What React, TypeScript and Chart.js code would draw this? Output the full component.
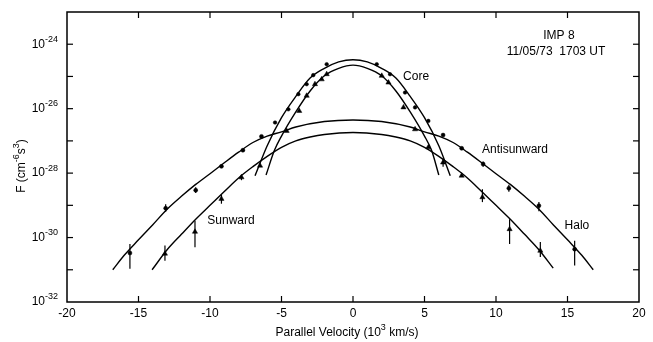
import React, { useEffect, useRef } from 'react';
import { Chart, registerables } from 'chart.js';

Chart.register(...registerables);

const FONT = '"Liberation Sans", Arial, Helvetica, sans-serif';

// Axis ticks
const xTickValues = [-20, -15, -10, -5, 0, 5, 10, 15, 20];
const yDecades = [-32, -31, -30, -29, -28, -27, -26, -25, -24, -23];
const yLabelDecades = [-32, -30, -28, -26, -24];

// Fitted curves (log10 of F)
const coreOuterX = [-6.85, -6, -5, -4, -3, -2, -1, 0, 1, 2, 3, 4, 5, 6, 6.8];
const coreOuterLogF = [-28.08, -27.15, -26.28, -25.62, -25.05, -24.75, -24.55, -24.48, -24.55, -24.75, -25.05, -25.62, -26.28, -27.15, -28.08];

const coreInnerX = [-6.08, -5.5, -5, -4, -3, -2, -1, 0, 1, 2, 3, 4, 5, 5.5, 6.0];
const coreInnerLogF = [-28.06, -27.3, -26.85, -26.1, -25.45, -24.98, -24.75, -24.65, -24.75, -24.98, -25.45, -26.1, -26.85, -27.3, -28.06];

const antiCurveX = [-16.8, -16, -15, -14, -13, -12, -11, -10, -9, -8, -7, -6, -5, -4, -2, 0, 2, 4, 5, 6, 7, 8, 9, 10, 11, 12, 13, 14, 15, 16, 16.8];
const antiCurveLogF = [-31.0, -30.55, -30.07, -29.6, -29.12, -28.72, -28.35, -28.02, -27.68, -27.35, -27.05, -26.85, -26.72, -26.57, -26.4, -26.35, -26.4, -26.57, -26.72, -26.85, -27.05, -27.35, -27.68, -28.02, -28.35, -28.72, -29.12, -29.6, -30.07, -30.55, -31.0];

const sunCurveX = [-14.05, -13, -12, -11, -10, -9, -8, -7, -6, -5, -4, -3, -2, 0, 2, 3, 4, 5, 6, 7, 8, 9, 10, 11, 12, 13, 14.0];
const sunCurveLogF = [-31.0, -30.38, -29.9, -29.43, -29.0, -28.57, -28.15, -27.8, -27.48, -27.2, -27.0, -26.88, -26.8, -26.74, -26.8, -26.88, -27.0, -27.2, -27.48, -27.8, -28.15, -28.57, -29.0, -29.43, -29.9, -30.38, -30.95];

// Measured points
const coreDotX = [-5.45, -4.52, -3.82, -3.24, -2.78, -1.84, 1.66, 2.59, 3.64, 4.34, 5.27];
const coreDotLogF = [-26.43, -26.02, -25.55, -25.24, -24.96, -24.62, -24.62, -24.93, -25.5, -25.96, -26.38];

const coreTriX = [-4.64, -3.76, -3.24, -2.66, -2.19, -1.84, 2.01, 2.48, 3.53, 4.34, 5.27];
const coreTriLogF = [-26.69, -26.07, -25.6, -25.24, -25.09, -24.93, -24.98, -25.19, -25.96, -26.64, -27.2];

const antiX = [-15.6, -13.1, -11.0, -9.2, -7.7, -6.4, 6.3, 7.6, 9.1, 10.9, 13.0, 15.5];
const antiLogF = [-30.48, -29.09, -28.53, -27.79, -27.29, -26.86, -26.82, -27.23, -27.72, -28.47, -29.01, -30.36];
const antiErrLo = [-30.97, -29.2, -28.62, null, null, null, null, null, -27.8, -28.58, -29.18, -30.87];
const antiErrHi = [-30.2, -28.97, -28.44, null, null, null, null, null, -27.64, -28.36, -28.9, -30.1];

const sunX = [-13.15, -11.05, -9.2, -7.8, -6.5, 6.3, 7.6, 9.05, 10.95, 13.1];
const sunLogF = [-30.5, -29.82, -28.8, -28.13, -27.77, -27.67, -28.08, -28.75, -29.74, -30.41];
const sunErrLo = [-30.72, -30.3, -28.95, -28.22, null, -27.8, null, -28.9, -30.2, -30.6];
const sunErrHi = [-30.25, -29.48, -28.68, -28.05, null, -27.55, null, -28.5, -29.43, -30.14];

// Text annotations (data coordinates)
const noteText = ['Core', 'Antisunward', 'Halo', 'Sunward', 'IMP 8', '11/05/73  1703 UT'];
const noteX = [4.41, 11.33, 15.66, -8.53, 14.4, 14.2];
const noteLogF = [-25.02, -27.26, -29.64, -29.49, -23.72, -24.22];

const MAIN = `12px ${FONT}`;
const SMALL = `9px ${FONT}`;

// draws a run of [text, isSuperscript] pieces starting at x (left-aligned, middle baseline)
const drawRuns = (ctx: any, runs: [string, boolean][], x: number, y: number) => {
  let cx = x;
  for (const [t, s] of runs) {
    ctx.font = s ? SMALL : MAIN;
    ctx.fillText(t, cx, s ? y - 5 : y);
    cx += ctx.measureText(t).width;
  }
};
const runsWidth = (ctx: any, runs: [string, boolean][]) => {
  let w = 0;
  for (const [t, s] of runs) {
    ctx.font = s ? SMALL : MAIN;
    w += ctx.measureText(t).width;
  }
  return w;
};

const toPts = (xs: number[], logs: number[]) => xs.map((x, i) => ({ x, y: Math.pow(10, logs[i]) }));

const framePlugin = {
  id: 'frameAndExtras',
  afterDatasetsDraw(chart: any) {
    const { ctx, chartArea: a, scales } = chart;
    const xs = scales.x;
    const ys = scales.y;
    ctx.save();
    ctx.strokeStyle = '#000';
    const line = (x1: number, y1: number, x2: number, y2: number) => {
      ctx.beginPath();
      ctx.moveTo(x1, y1);
      ctx.lineTo(x2, y2);
      ctx.stroke();
    };
    // error bars
    ctx.lineWidth = 1.2;
    const bars = (X: number[], lo: (number | null)[], hi: (number | null)[]) => {
      X.forEach((x, i) => {
        const l = lo[i];
        const h = hi[i];
        if (l == null || h == null) return;
        const px = xs.getPixelForValue(x);
        line(px, ys.getPixelForValue(Math.pow(10, l)), px, ys.getPixelForValue(Math.pow(10, h)));
      });
    };
    bars(antiX, antiErrLo, antiErrHi);
    bars(sunX, sunErrLo, sunErrHi);

    // frame
    ctx.lineWidth = 1.5;
    ctx.strokeRect(a.left, a.top, a.right - a.left, a.bottom - a.top);
    // inward ticks
    ctx.lineWidth = 1.2;
    const L = 6;
    for (const v of xTickValues) {
      const px = xs.getPixelForValue(v);
      if (px <= a.left + 1 || px >= a.right - 1) continue;
      line(px, a.bottom, px, a.bottom - L);
      line(px, a.top, px, a.top + L);
    }
    for (const e of yDecades) {
      const py = ys.getPixelForValue(Math.pow(10, e));
      if (py <= a.top + 1 || py >= a.bottom - 1) continue;
      line(a.left, py, a.left + L, py);
      line(a.right, py, a.right - L, py);
    }

    ctx.fillStyle = '#000';
    ctx.textBaseline = 'middle';

    // y tick labels: 10 with superscript exponent
    ctx.textAlign = 'left';
    for (const e of yLabelDecades) {
      const py = ys.getPixelForValue(Math.pow(10, e));
      const runs: [string, boolean][] = [['10', false], [String(e), true]];
      const w = runsWidth(ctx, runs);
      drawRuns(ctx, runs, a.left - 9 - w, py);
    }

    // annotations
    ctx.font = MAIN;
    ctx.textAlign = 'center';
    noteText.forEach((t, i) => {
      ctx.fillText(t, xs.getPixelForValue(noteX[i]), ys.getPixelForValue(Math.pow(10, noteLogF[i])));
    });

    // x axis title
    ctx.textAlign = 'left';
    const xRuns: [string, boolean][] = [['Parallel Velocity (10', false], ['3', true], [' km/s)', false]];
    const xw = runsWidth(ctx, xRuns);
    drawRuns(ctx, xRuns, (a.left + a.right) / 2 - 6 - xw / 2, 333);

    // y axis title (rotated)
    const yRuns: [string, boolean][] = [['F (cm', false], ['-6', true], ['s', false], ['3', true], [')', false]];
    const yw = runsWidth(ctx, yRuns);
    ctx.save();
    ctx.translate(22, (a.top + a.bottom) / 2 + 9);
    ctx.rotate(-Math.PI / 2);
    drawRuns(ctx, yRuns, -yw / 2, 0);
    ctx.restore();
    ctx.restore();
  },
};

export default function App() {
  const ref = useRef<HTMLCanvasElement | null>(null);
  useEffect(() => {
    if (!ref.current) return;
    document.body.style.margin = '0';
    Chart.defaults.font.family = FONT;
    Chart.defaults.font.size = 12;
    Chart.defaults.color = '#000';
    const curve = (xs: number[], logs: number[]) => ({
      type: 'line' as const,
      data: toPts(xs, logs),
      showLine: true,
      borderColor: '#000',
      borderWidth: 1.4,
      pointRadius: 0,
      fill: false,
      cubicInterpolationMode: 'monotone' as const,
    });
    const pts = (xs: number[], logs: number[], style: string, r: number) => ({
      type: 'scatter' as const,
      data: toPts(xs, logs),
      pointStyle: style,
      pointRadius: r,
      backgroundColor: '#000',
      borderColor: '#000',
      borderWidth: 0.5,
      showLine: false,
    });
    const chart = new Chart(ref.current, {
      type: 'scatter',
      data: {
        datasets: [
          curve(coreOuterX, coreOuterLogF),
          curve(coreInnerX, coreInnerLogF),
          curve(antiCurveX, antiCurveLogF),
          curve(sunCurveX, sunCurveLogF),
          pts(coreDotX, coreDotLogF, 'circle', 1.8),
          pts(coreTriX, coreTriLogF, 'triangle', 3),
          pts(antiX, antiLogF, 'circle', 2),
          pts(sunX, sunLogF, 'triangle', 3),
        ] as any,
      },
      options: {
        responsive: false,
        maintainAspectRatio: false,
        animation: false,
        devicePixelRatio: 1,
        layout: { padding: { left: 0, top: 12, right: 14, bottom: 0 } },
        plugins: { legend: { display: false }, tooltip: { enabled: false } },
        scales: {
          x: {
            type: 'linear',
            min: -20,
            max: 20,
            afterBuildTicks: (s: any) => {
              s.ticks = xTickValues.map((v) => ({ value: v }));
            },
            afterFit: (s: any) => {
              s.height = 40;
            },
            grid: { display: false, drawTicks: false },
            border: { display: false },
            ticks: { padding: 4, color: '#000', font: { size: 12, family: FONT }, maxRotation: 0 },
          },
          y: {
            type: 'logarithmic',
            min: 1e-32,
            max: 1e-23,
            afterBuildTicks: (s: any) => {
              s.ticks = yDecades.map((e) => ({ value: Math.pow(10, e) }));
            },
            afterFit: (s: any) => {
              s.width = 67;
            },
            grid: { display: false, drawTicks: false },
            border: { display: false },
            ticks: { display: false },
          },
        },
      } as any,
      plugins: [framePlugin],
    });
    return () => chart.destroy();
  }, []);
  return (
    <div style={{ position: 'absolute', left: 0, top: 0, width: 653, height: 342, background: '#fff' }}>
      <canvas ref={ref} width={653} height={342} style={{ display: 'block' }} />
    </div>
  );
}
